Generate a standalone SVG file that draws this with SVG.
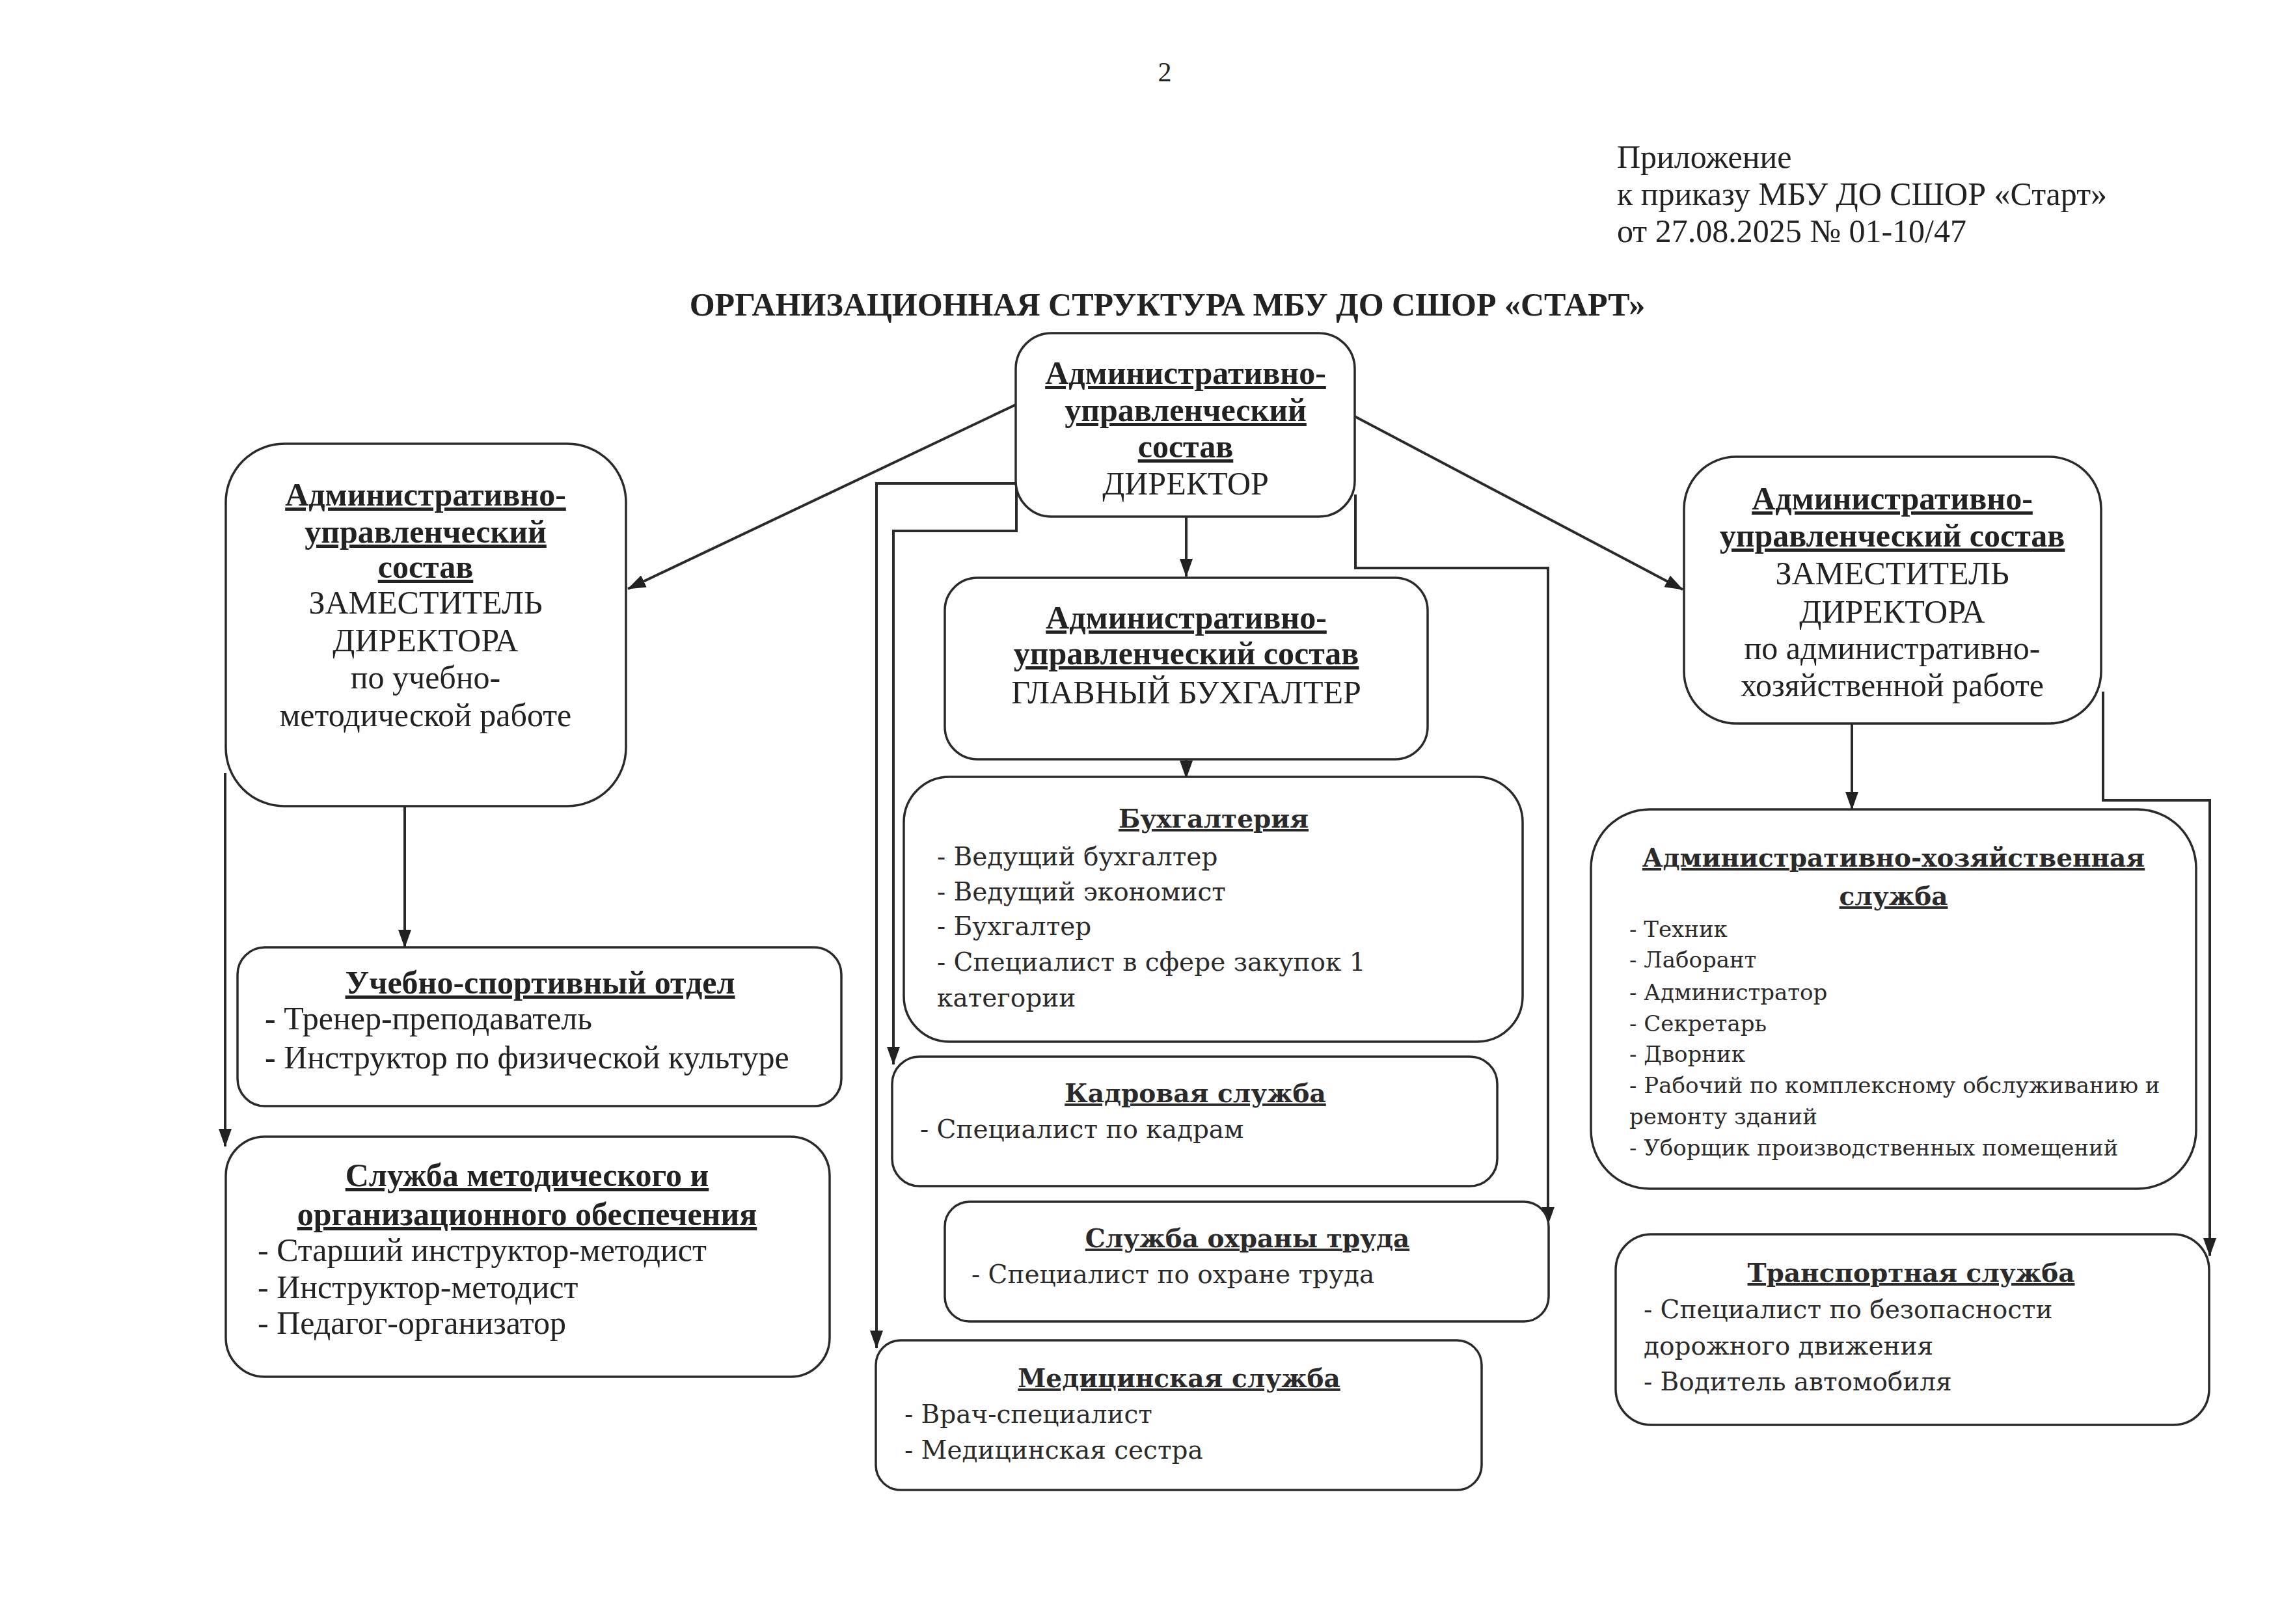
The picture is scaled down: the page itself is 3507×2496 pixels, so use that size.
<svg xmlns="http://www.w3.org/2000/svg" width="3507" height="2496" viewBox="0 0 3507 2496">
<defs>
<style>
.box{fill:#fff;stroke:#2a2a2a;stroke-width:3.5}
.ln{fill:none;stroke:#2a2a2a;stroke-width:4}
.t{font-family:"Liberation Serif","Times New Roman",serif;font-size:50px;fill:#222}
.tb{font-family:"Liberation Serif","Times New Roman",serif;font-size:50px;font-weight:bold;fill:#222;text-decoration:underline}
.b{font-family:"DejaVu Serif",serif;font-size:39px;fill:#2a2a2a}
.bs{font-family:"DejaVu Serif",serif;font-size:34px;fill:#2a2a2a}
.bb{font-family:"DejaVu Serif",serif;font-size:39px;font-weight:bold;fill:#2a2a2a;text-decoration:underline}
.c{text-anchor:middle}
</style>
<marker id="arr" markerWidth="28" markerHeight="20" refX="27" refY="10" orient="auto" markerUnits="userSpaceOnUse">
<path d="M0,0 L28,10 L0,20 z" fill="#222"/>
</marker>
</defs>
<rect width="3507" height="2496" fill="#fff"/>

<g id="header">
<text class="t c" x="1790" y="125" style="font-size:42px">2</text>
<text class="t" x="2485" y="258">Приложение</text>
<text class="t" x="2485" y="315">к приказу МБУ ДО СШОР «Старт»</text>
<text class="t" x="2485" y="372">от 27.08.2025 № 01-10/47</text>
<text class="t c" x="1794" y="485" style="font-weight:bold">ОРГАНИЗАЦИОННАЯ СТРУКТУРА МБУ ДО СШОР «СТАРТ»</text>
</g>

<g id="connectors">
<line class="ln" x1="1561" y1="622" x2="965" y2="905" marker-end="url(#arr)"/>
<line class="ln" x1="2082" y1="640" x2="2586" y2="906" marker-end="url(#arr)"/>
<line class="ln" x1="1823" y1="794" x2="1823" y2="886" marker-end="url(#arr)"/>
<line class="ln" x1="1823" y1="1167" x2="1823" y2="1196" marker-end="url(#arr)"/>
<path class="ln" d="M1562,743 H1347 V2072" marker-end="url(#arr)"/>
<path class="ln" d="M1562,740 V816 H1373 V1636" marker-end="url(#arr)"/>
<path class="ln" d="M2083,760 V873 H2379 V1882" marker-end="url(#arr)"/>
<line class="ln" x1="622" y1="1239" x2="622" y2="1456" marker-end="url(#arr)"/>
<path class="ln" d="M346,1188 V1762" marker-end="url(#arr)"/>
<line class="ln" x1="2846" y1="1112" x2="2846" y2="1244" marker-end="url(#arr)"/>
<path class="ln" d="M3232,1063 V1230 H3396 V1930" marker-end="url(#arr)"/>
</g>

<g id="director">
<rect class="box" x="1561" y="512" width="521" height="282" rx="55"/>
<text class="tb c" x="1822" y="590">Административно-</text>
<text class="tb c" x="1822" y="647">управленческий</text>
<text class="tb c" x="1822" y="703">состав</text>
<text class="t c" x="1822" y="760">ДИРЕКТОР</text>
</g>

<g id="deputy-edu">
<rect class="box" x="347" y="682" width="615" height="557" rx="90"/>
<text class="tb c" x="654" y="777">Административно-</text>
<text class="tb c" x="654" y="834">управленческий</text>
<text class="tb c" x="654" y="888">состав</text>
<text class="t c" x="654" y="943">ЗАМЕСТИТЕЛЬ</text>
<text class="t c" x="654" y="1001">ДИРЕКТОРА</text>
<text class="t c" x="654" y="1058">по учебно-</text>
<text class="t c" x="654" y="1116">методической работе</text>
</g>

<g id="deputy-adm">
<rect class="box" x="2588" y="702" width="641" height="410" rx="80"/>
<text class="tb c" x="2908" y="783">Административно-</text>
<text class="tb c" x="2908" y="840">управленческий состав</text>
<text class="t c" x="2908" y="898">ЗАМЕСТИТЕЛЬ</text>
<text class="t c" x="2908" y="957">ДИРЕКТОРА</text>
<text class="t c" x="2908" y="1013">по административно-</text>
<text class="t c" x="2908" y="1070">хозяйственной работе</text>
</g>

<g id="chief-accountant">
<rect class="box" x="1452" y="888" width="742" height="279" rx="50"/>
<text class="tb c" x="1823" y="966">Административно-</text>
<text class="tb c" x="1823" y="1021">управленческий состав</text>
<text class="t c" x="1823" y="1081">ГЛАВНЫЙ БУХГАЛТЕР</text>
</g>

<g id="accounting">
<rect class="box" x="1389" y="1194" width="951" height="407" rx="70"/>
<text class="bb c" x="1865" y="1272">Бухгалтерия</text>
<text class="b" x="1440" y="1330">- Ведущий бухгалтер</text>
<text class="b" x="1440" y="1384">- Ведущий экономист</text>
<text class="b" x="1440" y="1437">- Бухгалтер</text>
<text class="b" x="1440" y="1492">- Специалист в сфере закупок 1</text>
<text class="b" x="1440" y="1547">категории</text>
</g>

<g id="hr">
<rect class="box" x="1371" y="1624" width="930" height="199" rx="42"/>
<text class="bb c" x="1837" y="1694">Кадровая служба</text>
<text class="b" x="1414" y="1749">- Специалист по кадрам</text>
</g>

<g id="labor-safety">
<rect class="box" x="1452" y="1847" width="928" height="184" rx="38"/>
<text class="bb c" x="1917" y="1917">Служба охраны труда</text>
<text class="b" x="1493" y="1972">- Специалист по охране труда</text>
</g>

<g id="medical">
<rect class="box" x="1346" y="2060" width="931" height="230" rx="38"/>
<text class="bb c" x="1812" y="2132">Медицинская служба</text>
<text class="b" x="1390" y="2187">- Врач-специалист</text>
<text class="b" x="1390" y="2242">- Медицинская сестра</text>
</g>

<g id="sport-dept">
<rect class="box" x="365" y="1456" width="928" height="244" rx="42"/>
<text class="tb c" x="830" y="1527">Учебно-спортивный отдел</text>
<text class="t" x="407" y="1582">- Тренер-преподаватель</text>
<text class="t" x="407" y="1642">- Инструктор по физической культуре</text>
</g>

<g id="method-service">
<rect class="box" x="347" y="1747" width="928" height="369" rx="60"/>
<text class="tb c" x="810" y="1823">Служба методического и</text>
<text class="tb c" x="810" y="1883">организационного обеспечения</text>
<text class="t" x="396" y="1938">- Старший инструктор-методист</text>
<text class="t" x="396" y="1995">- Инструктор-методист</text>
<text class="t" x="396" y="2050">- Педагог-организатор</text>
</g>

<g id="admin-service">
<rect class="box" x="2445" y="1244" width="930" height="583" rx="90"/>
<text class="bb c" x="2910" y="1332">Административно-хозяйственная</text>
<text class="bb c" x="2910" y="1391">служба</text>
<text class="bs" x="2504" y="1440">- Техник</text>
<text class="bs" x="2504" y="1487">- Лаборант</text>
<text class="bs" x="2504" y="1537">- Администратор</text>
<text class="bs" x="2504" y="1585">- Секретарь</text>
<text class="bs" x="2504" y="1632">- Дворник</text>
<text class="bs" x="2504" y="1680">- Рабочий по комплексному обслуживанию и</text>
<text class="bs" x="2504" y="1728">ремонту зданий</text>
<text class="bs" x="2504" y="1776">- Уборщик производственных помещений</text>
</g>

<g id="transport">
<rect class="box" x="2483" y="1897" width="912" height="293" rx="55"/>
<text class="bb c" x="2937" y="1970">Транспортная служба</text>
<text class="b" x="2526" y="2026">- Специалист по безопасности</text>
<text class="b" x="2526" y="2082">дорожного движения</text>
<text class="b" x="2526" y="2137">- Водитель автомобиля</text>
</g>
</svg>
